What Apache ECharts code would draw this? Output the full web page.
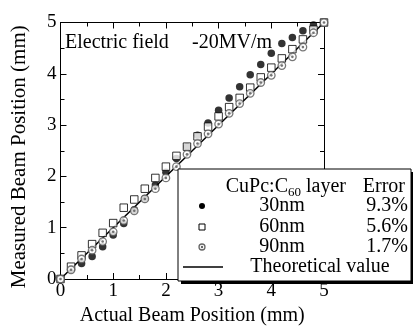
<!DOCTYPE html>
<html><head><meta charset="utf-8">
<script src="https://cdn.jsdelivr.net/npm/echarts@6/dist/echarts.min.js"></script>
<style>html,body{margin:0;padding:0;background:#fff}#c{width:413px;height:331px}</style>
</head><body><div id="c"></div>
<script>
const actual = [0,0.2,0.4,0.6,0.8,1.0,1.2,1.4,1.6,1.8,2.0,2.2,2.4,2.6,2.8,3.0,3.2,3.4,3.6,3.8,4.0,4.2,4.4,4.6,4.8,5.0];
const measured30 = [0,0.19,0.30,0.44,0.63,0.86,1.08,1.35,1.57,1.83,2.08,2.35,2.58,2.80,3.04,3.29,3.53,3.75,3.98,4.18,4.40,4.59,4.71,4.84,4.95,5.00];
const measured60 = [0,0.24,0.46,0.68,0.90,1.09,1.39,1.55,1.76,1.97,2.19,2.40,2.58,2.78,2.97,3.17,3.35,3.53,3.73,3.93,4.12,4.30,4.48,4.67,4.86,5.00];
const measured90 = [0,0.18,0.39,0.56,0.73,0.92,1.14,1.33,1.56,1.76,1.97,2.19,2.43,2.64,2.83,3.02,3.23,3.42,3.62,3.83,3.97,4.16,4.33,4.52,4.80,5.00];
const theoryX = [0,5];
const theoryY = [0,5];
const legendLayers = ['30nm','60nm','90nm'];
const legendErrors = ['9.3%','5.6%','1.7%'];

const FF = '"Liberation Serif","Times New Roman",serif';
const pair = (xa, ya) => xa.map((v,i)=>[v, ya[i]]);

const axisCommon = {
  min:0, max:5, interval:1,
  axisLine:{show:true, onZero:false, lineStyle:{color:'#000', width:1}},
  axisTick:{show:true, inside:true, length:6, lineStyle:{color:'#000'}},
  minorTick:{show:true, splitNumber:2, length:4, lineStyle:{color:'#000'}},
  splitLine:{show:false}, minorSplitLine:{show:false}
};

const chart = echarts.init(document.getElementById('c'), null, {renderer:'canvas'});
const L = {x:178, y:169, w:233, h:112};
const rowY = [206, 227, 247];
const markerX = 202;

const graphic = [
  {type:'text', x:65, y:43, z:10, style:{text:'Electric field', font:'20px '+FF, fill:'#000', align:'left', verticalAlign:'middle'}},
  {type:'text', x:192, y:43, z:10, style:{text:'-20MV/m', font:'20px '+FF, fill:'#000', align:'left', verticalAlign:'middle'}},
  {type:'rect', z:20, shape:{x:L.x+3, y:L.y+3, width:L.w, height:L.h}, style:{fill:'#000'}},
  {type:'rect', z:21, shape:{x:L.x, y:L.y, width:L.w, height:L.h}, style:{fill:'#fff', stroke:'#000', lineWidth:1}},
  {type:'text', x:288, y:187, z:22, style:{text:'CuPc:C', font:'20px '+FF, fill:'#000', align:'right', verticalAlign:'middle'}},
  {type:'text', x:288, y:193, z:22, style:{text:'60', font:'13px '+FF, fill:'#000', align:'left', verticalAlign:'middle'}},
  {type:'text', x:306, y:187, z:22, style:{text:'layer', font:'20px '+FF, fill:'#000', align:'left', verticalAlign:'middle'}},
  {type:'text', x:405, y:187, z:22, style:{text:'Error', font:'20px '+FF, fill:'#000', align:'right', verticalAlign:'middle'}},
  {type:'circle', z:22, shape:{cx:markerX, cy:rowY[0], r:3}, style:{fill:'#000'}},
  {type:'rect', z:22, shape:{x:markerX-3, y:rowY[1]-3, width:6, height:6}, style:{fill:'#fff', stroke:'#000', lineWidth:1}},
  {type:'circle', z:22, shape:{cx:markerX, cy:rowY[2], r:3}, style:{fill:'#fff', stroke:'#666', lineWidth:1.3}},
  {type:'circle', z:23, shape:{cx:markerX, cy:rowY[2], r:1.2}, style:{fill:'#666'}},
  {type:'line', z:22, shape:{x1:183, y1:267, x2:223, y2:267}, style:{stroke:'#000', lineWidth:1.5}},
  {type:'text', x:320, y:267, z:22, style:{text:'Theoretical value', font:'20px '+FF, fill:'#000', align:'center', verticalAlign:'middle'}}
];
legendLayers.forEach((t,i)=>{
  graphic.push({type:'text', x:282, y:rowY[i], z:22, style:{text:t, font:'20px '+FF, fill:'#000', align:'center', verticalAlign:'middle'}});
  graphic.push({type:'text', x:408, y:rowY[i], z:22, style:{text:legendErrors[i], font:'20px '+FF, fill:'#000', align:'right', verticalAlign:'middle'}});
});

chart.setOption({
  animation:false,
  backgroundColor:'#fff',
  grid:{left:60.5, right:89, top:22.5, bottom:45.5, containLabel:false},
  xAxis:[
    Object.assign({}, axisCommon, {type:'value', position:'bottom',
      name:'Actual Beam Position (mm)', nameLocation:'middle', nameGap:27,
      nameTextStyle:{fontFamily:FF, fontSize:20, color:'#000'},
      axisLabel:{show:true, margin:3, fontFamily:FF, fontSize:19, color:'#000'}}),
    Object.assign({}, axisCommon, {type:'value', position:'top', axisLabel:{show:false}})
  ],
  yAxis:[
    Object.assign({}, axisCommon, {type:'value', position:'left',
      name:'Measured Beam Position (mm)', nameLocation:'middle', nameGap:31,
      nameTextStyle:{fontFamily:FF, fontSize:21, color:'#000', padding:[0,12,0,0]},
      axisLabel:{show:true, margin:4, fontFamily:FF, fontSize:19, color:'#000'}}),
    Object.assign({}, axisCommon, {type:'value', position:'right', axisLabel:{show:false}})
  ],
  series:[
    {name:'Theoretical value', type:'line', data:pair(theoryX, theoryY), symbol:'none',
      lineStyle:{color:'#000', width:1.5}, z:2},
    {name:'30nm', type:'scatter', data:pair(actual, measured30), symbol:'circle', symbolSize:7.5,
      itemStyle:{color:'#000'}, z:3},
    {name:'60nm', type:'scatter', data:pair(actual, measured60), symbol:'rect', symbolSize:7.5,
      itemStyle:{color:'#fff', borderColor:'#000', borderWidth:1}, z:4},
    {name:'90nm', type:'scatter', data:pair(actual, measured90), symbol:'circle', symbolSize:7.5,
      itemStyle:{color:'#fff', borderColor:'#555', borderWidth:1.3}, z:5},
    {name:'90nm core', type:'scatter', data:pair(actual, measured90), symbol:'circle', symbolSize:2.6,
      itemStyle:{color:'#555'}, z:6, silent:true}
  ],
  graphic: graphic
});
</script></body></html>
